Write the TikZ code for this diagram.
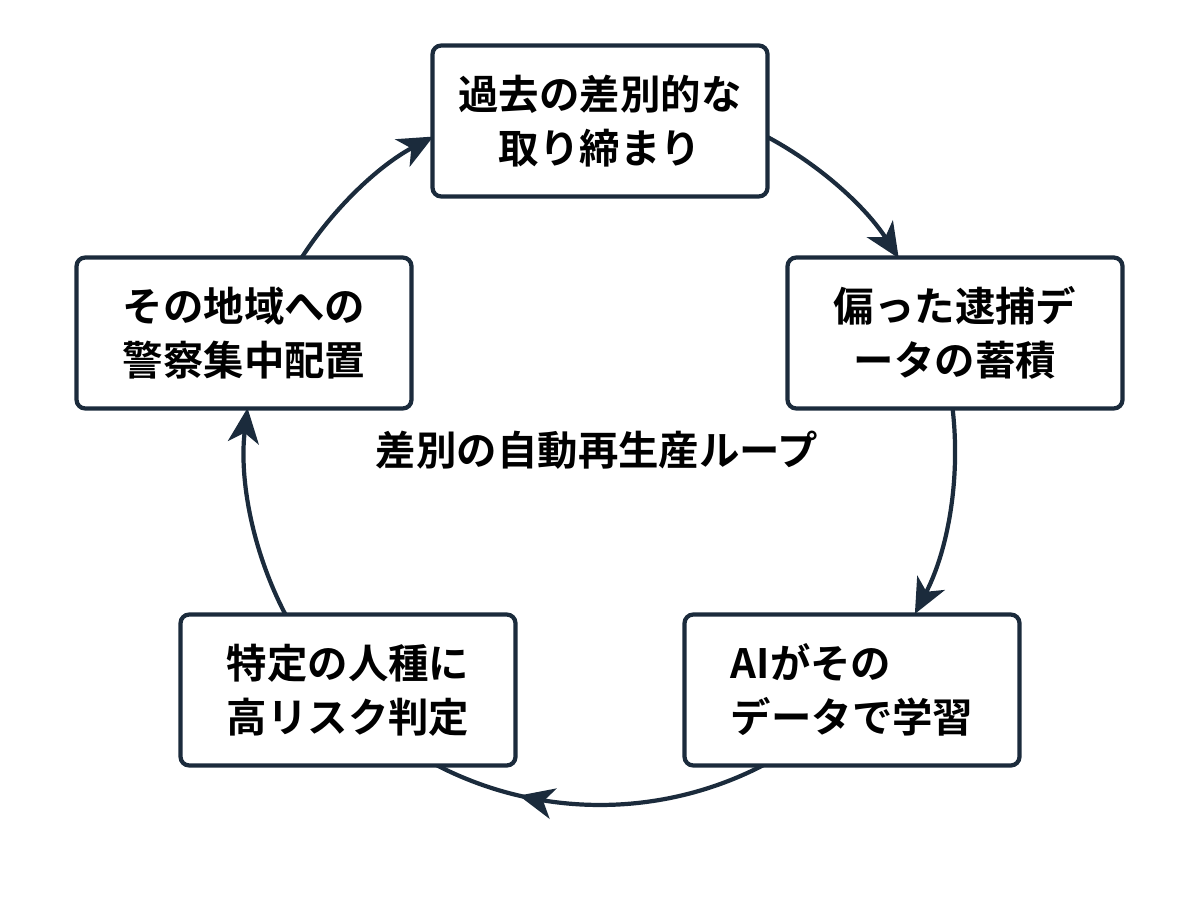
\documentclass[tikz,border=0pt]{standalone}
\usepackage{fontspec}
\setmainfont{Noto Sans CJK JP}[BoldFont={* Bold}]
\usepackage{tikz}
\usetikzlibrary{arrows.meta, calc, decorations.markings}
\definecolor{navy}{HTML}{1B2B3C}
\begin{document}
\begin{tikzpicture}[
        stage/.style={rectangle, draw=navy, line width=2.4pt, rounded corners=5pt, fill=white, minimum width=6.7cm, minimum height=3.02cm, align=center, font=\fontsize{23}{31}\selectfont\bfseries},
        cyc/.style={draw=navy, line width=2.4pt, -{Stealth[length=0.7cm, width=0.62cm, inset=0.2cm]}},
        title/.style={font=\fontsize{23}{27}\selectfont\bfseries}
    ]
        \useasboundingbox (0,0) rectangle (24,17.92);
        \coordinate (c) at (12,8.92);
        % Loop arcs
        \draw[cyc] ($(c)+(61.7:7.1)$) arc[start angle=61.7, end angle=32.7, radius=7.1];
        \draw[cyc] ($(c)+(6.8:7.1)$) arc[start angle=6.8, end angle=-27.5, radius=7.1];
        \draw[draw=navy, line width=2.4pt, postaction={decorate}, decoration={markings, mark=at position 0.74 with {\arrow{Stealth[length=0.7cm, width=0.62cm, inset=0.2cm]}}}]
            ($(c)+(-62.5:7.1)$) arc[start angle=-62.5, end angle=-117.5, radius=7.1];
        \draw[cyc] ($(c)+(-152.5:7.1)$) arc[start angle=-152.5, end angle=-186.8, radius=7.1];
        \draw[cyc] ($(c)+(147.3:7.1)$) arc[start angle=147.3, end angle=118, radius=7.1];
        % Stages
        \node[stage] (past) at (12,15.5) {過去の差別的な\\取り締まり};
        \node[stage] (data) at (19.1,11.26) {偏った逮捕デ\\ータの蓄積};
        \node[stage, align=left] (learn) at (17.04,4.12) {AIがその\\データで学習};
        \node[stage] (risk) at (6.96,4.12) {特定の人種に\\高リスク判定};
        \node[stage] (police) at (4.88,11.26) {その地域への\\警察集中配置};
        \node[title] (loop) at (11.94,8.92) {差別の自動再生産ループ};
    \end{tikzpicture}
\end{document}
